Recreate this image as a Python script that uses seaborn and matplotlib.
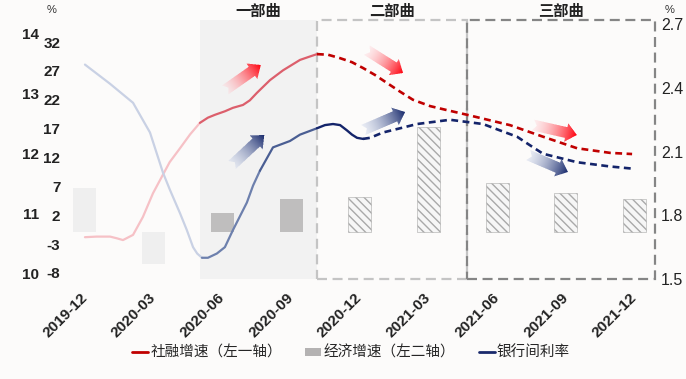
import numpy as np
import matplotlib
matplotlib.use('Agg')
import matplotlib.pyplot as plt
from matplotlib.path import Path
from matplotlib.patches import Rectangle, Patch
from matplotlib.lines import Line2D
from matplotlib.colors import to_rgba
import seaborn as sns

quarters = ['2019-12', '2020-03', '2020-06', '2020-09', '2020-12',
            '2021-03', '2021-06', '2021-09', '2021-12']
# 经济增速 (左二轴), bar heights
gdp = [7.3, -5.3, 3.2, 5.5, 5.8, 17.5, 8.2, 6.5, 5.5]

# 社融增速 (左一轴): months after 2019-12 / value
tsf_m = [0.0, 0.5, 1.1, 1.4, 1.66, 2.1, 2.53, 2.97, 3.28, 3.7, 4.15, 4.59,
         5.02, 5.37, 5.68, 6.11, 6.46, 6.9, 7.2, 7.51, 8.08, 8.65, 9.39, 9.83,
         10.13, 10.61, 11.14, 11.66, 12.14, 12.66, 13.19, 13.76, 14.32, 15.07,
         15.81, 16.68, 18.56, 20.0, 21.49, 22.93, 23.89]
tsf_v = [-1.8, -1.7, -1.7, -2.0, -2.3, -1.4, 1.7, 5.8, 8.1, 11.2, 13.6, 16.0,
         18.0, 18.9, 19.4, 20.0, 20.6, 21.1, 21.9, 23.2, 25.4, 27.1, 28.9, 29.5,
         29.9, 29.8, 29.2, 28.5, 27.5, 26.3, 24.9, 23.4, 22.0, 20.9,
         20.2, 19.4, 17.6, 15.6, 13.6, 12.8, 12.6]

# 银行间利率 (右轴)
rate_m = [0.0, 1.09, 2.1, 2.84, 3.41, 3.71, 4.15, 4.45, 4.72, 4.9, 5.11, 5.37,
          5.76, 6.11, 6.46, 7.07, 7.34, 7.64, 8.21, 8.95, 9.39, 10.13, 10.48,
          10.83, 11.14, 11.44, 11.66, 11.88, 12.14, 12.45, 13.01, 13.76, 14.5,
          15.94, 17.38, 18.12, 18.87, 19.43, 20.0, 21.49, 22.93, 23.89]
rate_v = [2.51, 2.42, 2.33, 2.19, 2.0, 1.92, 1.81, 1.73, 1.65, 1.62, 1.6, 1.6,
          1.62, 1.65, 1.73, 1.86, 1.94, 2.01, 2.12, 2.15, 2.18, 2.21, 2.225,
          2.23, 2.225, 2.2, 2.18, 2.165, 2.16, 2.165, 2.19, 2.21, 2.23,
          2.25, 2.23, 2.2, 2.17, 2.13, 2.09, 2.05, 2.03, 2.02]

phases = ['一部曲', '二部曲', '三部曲']
phase_edges = [5.02, 10.15, 16.68, 24.89]

inner_ticks = [-8, -3, 2, 7, 12, 17, 22, 27, 32]
outer_ticks = [10, 11, 12, 13, 14]
right_ticks = [1.5, 1.8, 2.1, 2.4, 2.7]

sns.set_theme(style='white')
plt.rcParams['font.family'] = ['Liberation Sans', 'Noto Sans CJK SC', 'DejaVu Sans']
plt.rcParams['axes.unicode_minus'] = False
plt.rcParams['hatch.linewidth'] = 1.0

BG = '#fcfbfa'
INK = '#222222'
fig = plt.figure(figsize=(6.86, 3.79), dpi=100, facecolor=BG)
rect = [68 / 686, 100 / 379, 587 / 686, 259 / 379]
XL = (-0.74, 24.89)

# background axis: shading, boxes, outer left ticks
ax_bg = fig.add_axes(rect)
ax_bg.set_zorder(0)
ax_bg.patch.set_visible(False)
ax_bg.axvspan(phase_edges[0], phase_edges[1], color='#f2f2f2', lw=0)
ax_bg.add_patch(Rectangle((phase_edges[1], 0), phase_edges[2] - phase_edges[1], 1,
                          transform=ax_bg.get_xaxis_transform(), fill=False,
                          ec='#c4c4c4', lw=1.6, ls=(0, (4.5, 2.5)), clip_on=False))
ax_bg.add_patch(Rectangle((phase_edges[2], 0), phase_edges[3] - phase_edges[2], 1,
                          transform=ax_bg.get_xaxis_transform(), fill=False,
                          ec='#858585', lw=1.6, ls=(0, (4.5, 2.5)), clip_on=False))
for name, a, b in zip(phases, phase_edges[:-1], phase_edges[1:]):
    ax_bg.text((a + b) / 2, 1.031, name, transform=ax_bg.get_xaxis_transform(),
               ha='center', va='center', fontsize=11, fontweight='bold', color=INK)
ax_bg.set_xlim(*XL)
ax_bg.set_ylim(9.9, 14.217)
ax_bg.set_yticks(outer_ticks)
ax_bg.set_xticks([])
ax_bg.tick_params(axis='y', length=0, pad=21, labelsize=11, labelcolor=INK)
for t in ax_bg.get_yticklabels():
    t.set_fontweight('bold')

# bars
ax_b = fig.add_axes(rect)
ax_b.set_zorder(1)
ax_b.patch.set_visible(False)
sns.barplot(x=quarters, y=gdp, ax=ax_b, width=0.335, color='#efefef',
            saturation=1, errorbar=None)
for i, p in enumerate(ax_b.patches):
    if i < 2:
        p.set_facecolor('#efefef'); p.set_edgecolor('none')
    elif i < 4:
        p.set_facecolor('#bfbebe'); p.set_edgecolor('none')
    else:
        p.set_facecolor('#f6f6f6'); p.set_hatch('\\\\\\\\')
        p.set_edgecolor('#a9a9a9'); p.set_linewidth(0.4)
ax_b.set_xlim(XL[0] / 3, XL[1] / 3)
ax_b.set_ylim(-7.83, 35.33)
ax_b.axis('off')

# red line (left inner axis)
ax = fig.add_axes(rect)
ax.set_zorder(2)
ax.patch.set_visible(False)
tm, tv = np.array(tsf_m), np.array(tsf_v)
k = tm <= 5.02
sns.lineplot(x=tm[k], y=tv[k], ax=ax, color='#f6c1c6', lw=1.6)
k = (tm >= 5.02) & (tm <= 10.13)
sns.lineplot(x=tm[k], y=tv[k], ax=ax, color='#dc5f6c', lw=1.6)
k = tm >= 10.13
sns.lineplot(x=tm[k], y=tv[k], ax=ax, color='#c00000', lw=1.9, linestyle=(0, (2.6, 1.7)))
ax.set_xlim(*XL)
ax.set_ylim(-9.04, 35.81)
ax.set_yticks(inner_ticks)
ax.set_xticks([0, 3, 6, 9, 12, 15, 18, 21, 24])
ax.set_xticklabels(quarters, rotation=45, ha='right', va='center', rotation_mode='anchor')
ax.tick_params(axis='y', length=0, pad=5.5, labelsize=11, labelcolor=INK)
ax.tick_params(axis='x', length=0, pad=12, labelsize=11, labelcolor=INK)
for t in ax.get_yticklabels() + ax.get_xticklabels():
    t.set_fontweight('bold')
ax.set_xlabel(''); ax.set_ylabel('')

# blue line (right axis)
ax_r = ax.twinx()
ax_r.set_zorder(3)
ax_r.patch.set_visible(False)
rm, rv = np.array(rate_m), np.array(rate_v)
k = rm <= 5.11
sns.lineplot(x=rm[k], y=rv[k], ax=ax_r, color='#c9d1e4', lw=1.6)
k = (rm >= 5.11) & (rm <= 7.64)
sns.lineplot(x=rm[k], y=rv[k], ax=ax_r, color='#6d80ad', lw=1.6)
k = (rm >= 7.64) & (rm <= 10.13)
sns.lineplot(x=rm[k], y=rv[k], ax=ax_r, color='#4a5e93', lw=1.6)
k = (rm >= 10.13) & (rm <= 12.14)
sns.lineplot(x=rm[k], y=rv[k], ax=ax_r, color='#14246a', lw=1.7)
k = rm >= 12.14
sns.lineplot(x=rm[k], y=rv[k], ax=ax_r, color='#14246a', lw=1.9, linestyle=(0, (2.6, 1.7)))
ax_r.set_xlim(*XL)
ax_r.set_ylim(1.5, 2.72)
ax_r.set_yticks(right_ticks)
ax_r.tick_params(axis='y', length=0, pad=4.3, labelsize=11.5, labelcolor=INK)
ax_r.set_ylabel('')

for a in (ax_bg, ax_b, ax, ax_r):
    for s in a.spines.values():
        s.set_visible(False)


def grad_arrow(tail, tip, c0, c1, shaft=11, head=19, head_len=11, notch=4):
    p0 = ax.transData.transform(tail)
    p1 = ax.transData.transform(tip)
    d = p1 - p0
    L = np.hypot(*d)
    u = d / L
    n = np.array([-u[1], u[0]])
    b = p1 - u * head_len
    pts = np.array([p0 + n * shaft / 2, b + n * shaft / 2, b + n * head / 2, p1,
                    b - n * head / 2, b - n * shaft / 2, p0 - n * shaft / 2,
                    p0 + u * notch, p0 + n * shaft / 2])
    path = Path(pts, closed=True)
    x0, y0 = np.floor(pts.min(axis=0)).astype(int) - 1
    x1, y1 = np.ceil(pts.max(axis=0)).astype(int) + 1
    w, h = x1 - x0, y1 - y0
    ss = 3
    off = (np.arange(ss) + 0.5) / ss
    cov = np.zeros((h, w))
    for ox in off:
        for oy in off:
            X, Y = np.meshgrid(np.arange(w) + x0 + ox, np.arange(h) + y0 + oy)
            cov += path.contains_points(np.c_[X.ravel(), Y.ravel()]).reshape(h, w)
    cov /= ss * ss
    X, Y = np.meshgrid(np.arange(w) + x0 + 0.5, np.arange(h) + y0 + 0.5)
    t = np.clip(((X - p0[0]) * u[0] + (Y - p0[1]) * u[1]) / L, 0, 1)[..., None]
    img = np.array(to_rgba(c0)) * (1 - t) + np.array(to_rgba(c1)) * t
    img[..., 3] *= cov
    fig.figimage(img, xo=x0, yo=y0, origin='lower', zorder=10)


red0, red1 = (1.0, 0.84, 0.86, 0.3), (1.0, 0.0, 0.05, 1.0)
blu0, blu1 = (0.80, 0.84, 0.93, 0.35), (0.09, 0.16, 0.42, 1.0)
grad_arrow((6.12, 23.69), (7.68, 28.02), red0, red1)
grad_arrow((12.30, 30.61), (13.89, 26.63), red0, red1)
grad_arrow((19.56, 17.63), (21.48, 15.90), red0, red1)
grad_arrow((6.42, 10.70), (7.83, 15.90), blu0, blu1)
grad_arrow((12.15, 16.76), (13.98, 19.88), blu0, blu1)
grad_arrow((19.35, 12.43), (21.09, 9.49), blu0, blu1)

fig.text(52 / 686, 1 - 10 / 379, '%', ha='center', va='center', fontsize=8, color='#333333')
fig.text(670 / 686, 1 - 10 / 379, '%', ha='center', va='center', fontsize=8, color='#333333')

handles = [Line2D([], [], color='#c00000', lw=2),
           Patch(facecolor='#b4b2b2', edgecolor='none'),
           Line2D([], [], color='#1a2a6c', lw=2)]
labels = ['社融增速（左一轴）', '经济增速（左二轴）', '银行间利率']
fig.legend(handles, labels, loc='center', bbox_to_anchor=(351 / 686, 26 / 379), ncol=3,
           frameon=False, fontsize=10.5, handlelength=1.1, handleheight=0.55,
           handletextpad=0.15, columnspacing=1.6)

fig.savefig('out.png', dpi=100, facecolor=BG)
